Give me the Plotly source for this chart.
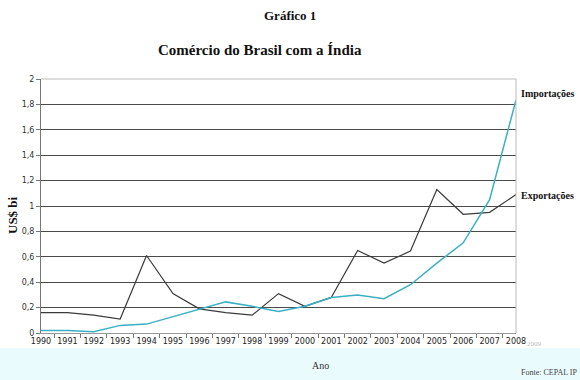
import plotly.graph_objects as go

years = [str(y) for y in range(1990, 2009)]
exportacoes = [0.16, 0.16, 0.14, 0.11, 0.61, 0.31, 0.19, 0.16, 0.14, 0.31,
               0.21, 0.28, 0.65, 0.55, 0.645, 1.13, 0.935, 0.95, 1.09]
importacoes = [0.02, 0.02, 0.01, 0.06, 0.07, 0.13, 0.19, 0.245, 0.21, 0.17,
               0.21, 0.28, 0.30, 0.27, 0.38, 0.55, 0.71, 1.05, 1.835]
y_ticks = [0, 0.2, 0.4, 0.6, 0.8, 1, 1.2, 1.4, 1.6, 1.8, 2]
y_labels = ["0", "0,2", "0,4", "0,6", "0,8", "1", "1,2", "1,4", "1,6", "1,8", "2"]

serif = "Liberation Serif"
fig = go.Figure()
fig.add_trace(go.Scatter(x=years, y=exportacoes, mode="lines", name="Exportações",
                         line=dict(color="#3a3a3a", width=1.2)))
fig.add_trace(go.Scatter(x=years, y=importacoes, mode="lines", name="Importações",
                         line=dict(color="#3ab0c2", width=1.5)))

W, H = 580, 380
L, R, T, B = 41, 64, 79, 47
pw, ph = W - L - R, H - T - B

fig.update_layout(
    width=W, height=H,
    margin=dict(l=L, r=R, t=T, b=B, autoexpand=False),
    paper_bgcolor="white", plot_bgcolor="white",
    showlegend=False,
    xaxis=dict(type="category", showgrid=False, showline=True, linecolor="#999",
               ticks="outside", ticklen=4, tickcolor="#777", tickson="boundaries",
               tickangle=0, automargin=False,
               tickfont=dict(family="DejaVu Sans", size=8, color="#222")),
    yaxis=dict(range=[0, 2], tickvals=y_ticks, ticktext=y_labels,
               showgrid=True, gridcolor="#4a4a4a", gridwidth=1, automargin=False,
               showline=True, linecolor="#777", ticks="outside", ticklen=4,
               tickcolor="#777", zeroline=False,
               tickfont=dict(family="DejaVu Sans", size=8, color="#333")),
)

def px_x(x):
    return (x - L) / pw

def px_y(y):
    return (T + ph - y) / ph

# light cyan band at the bottom
fig.add_shape(type="rect", xref="paper", yref="paper",
              x0=px_x(0), x1=px_x(W), y0=px_y(H + 2), y1=px_y(348),
              fillcolor="#e9fbfc", line=dict(width=0), layer="below")
# right border
fig.add_shape(type="line", xref="paper", yref="paper", x0=1, x1=1, y0=0, y1=1,
              line=dict(color="#bbb", width=1))
# top border
fig.add_shape(type="line", xref="paper", yref="paper", x0=0, x1=1, y0=1, y1=1,
              line=dict(color="#bbb", width=1))

def note(text, x, y, size, color="#111", xanchor="center", angle=0):
    fig.add_annotation(text=text, xref="paper", yref="paper",
                       x=px_x(x), y=px_y(y), xanchor=xanchor, yanchor="middle",
                       textangle=angle, showarrow=False,
                       font=dict(family=serif, size=size, color=color))

note("<b>US$ bi</b>", 13, 215, 13, angle=-90)
note("<b>Gráfico 1</b>", 290, 15, 13)
note("<b>Comércio do Brasil com a Índia</b>", 260, 50, 15)
note("<b>Importações</b>", 519, 93, 10, xanchor="left")
note("<b>Exportações</b>", 519, 195, 10, xanchor="left")
note("Ano", 320, 365, 10, color="#333")
note("2009", 534, 344, 7, color="#bbb")
note("Fonte: CEPAL IP", 519, 372, 8, color="#444", xanchor="left")

fig.write_html("out.html", config={"displayModeBar": False},
               post_script="document.body.style.margin='0';")
